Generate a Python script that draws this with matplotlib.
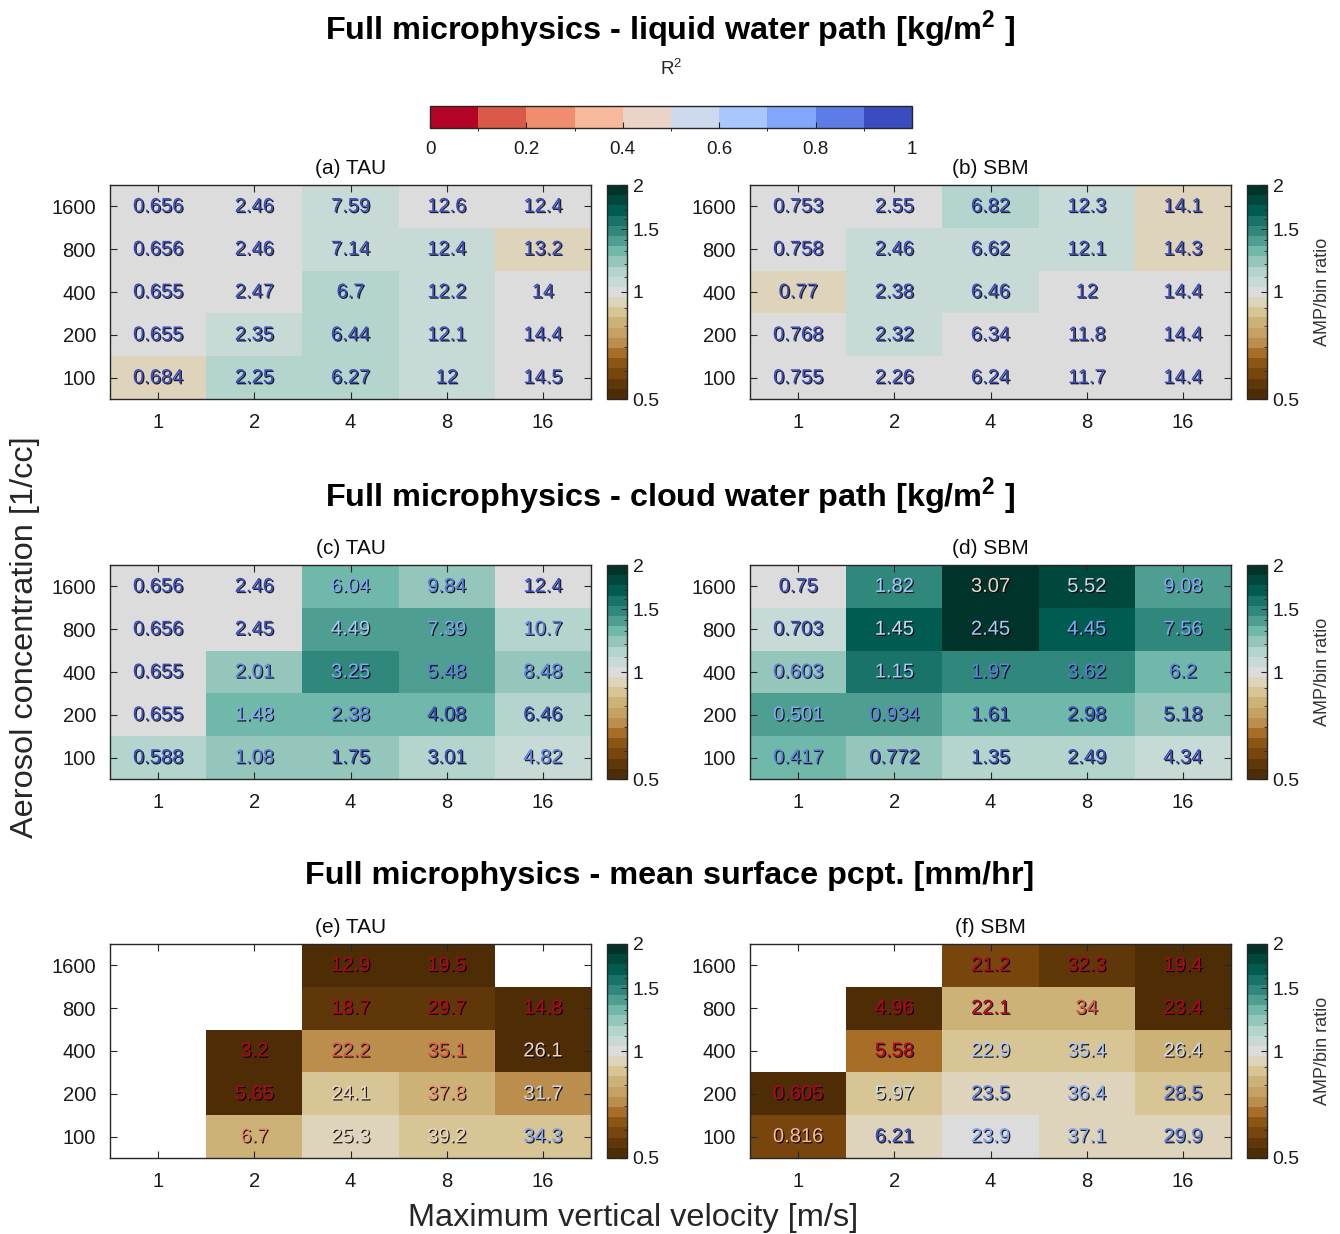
import numpy as np
import matplotlib
matplotlib.use('Agg')
import matplotlib.pyplot as plt
from matplotlib.colors import ListedColormap, LogNorm, BoundaryNorm
from matplotlib.cm import ScalarMappable
import matplotlib.patheffects as pe
from matplotlib.ticker import FixedLocator, NullFormatter

plt.rcParams['font.family'] = ['Liberation Sans', 'DejaVu Sans']
plt.rcParams['mathtext.fontset'] = 'custom'
plt.rcParams['mathtext.rm'] = 'Liberation Sans'
plt.rcParams['mathtext.bf'] = 'Liberation Sans:bold'

nan = np.nan
velocities = ['1', '2', '4', '8', '16']
aerosols = ['1600', '800', '400', '200', '100']   # top row first

# ---- (a) TAU liquid water path
a_vals = [[0.656, 2.46, 7.59, 12.6, 12.4],
          [0.656, 2.46, 7.14, 12.4, 13.2],
          [0.655, 2.47, 6.7, 12.2, 14],
          [0.655, 2.35, 6.44, 12.1, 14.4],
          [0.684, 2.25, 6.27, 12, 14.5]]
a_ratio = [[1.0, 1.0, 1.07, 1.0, 1.0],
           [1.0, 1.0, 1.07, 1.07, 0.94],
           [1.0, 1.0, 1.14, 1.07, 1.0],
           [1.0, 1.07, 1.14, 1.07, 1.0],
           [0.94, 1.14, 1.14, 1.07, 1.0]]
a_r2 = [[0.95] * 5] * 5

# ---- (b) SBM liquid water path
b_vals = [[0.753, 2.55, 6.82, 12.3, 14.1],
          [0.758, 2.46, 6.62, 12.1, 14.3],
          [0.77, 2.38, 6.46, 12, 14.4],
          [0.768, 2.32, 6.34, 11.8, 14.4],
          [0.755, 2.26, 6.24, 11.7, 14.4]]
b_ratio = [[1.0, 1.0, 1.14, 1.07, 0.94],
           [1.0, 1.07, 1.07, 1.07, 0.94],
           [0.94, 1.07, 1.07, 1.0, 1.0],
           [1.0, 1.07, 1.0, 1.0, 1.0],
           [1.0, 1.0, 1.0, 1.0, 1.0]]
b_r2 = [[0.95] * 5] * 5

# ---- (c) TAU cloud water path
c_vals = [[0.656, 2.46, 6.04, 9.84, 12.4],
          [0.656, 2.45, 4.49, 7.39, 10.7],
          [0.655, 2.01, 3.25, 5.48, 8.48],
          [0.655, 1.48, 2.38, 4.08, 6.46],
          [0.588, 1.08, 1.75, 3.01, 4.82]]
c_ratio = [[1.0, 1.0, 1.30, 1.22, 1.0],
           [1.0, 1.0, 1.39, 1.39, 1.14],
           [1.0, 1.22, 1.48, 1.39, 1.22],
           [1.0, 1.30, 1.30, 1.30, 1.14],
           [1.14, 1.22, 1.22, 1.14, 1.07]]
c_r2 = [[0.95, 0.95, 0.75, 0.85, 0.95],
        [0.95, 0.95, 0.65, 0.75, 0.85],
        [0.95, 0.85, 0.75, 0.85, 0.85],
        [0.95, 0.75, 0.85, 0.95, 0.95],
        [0.95, 0.85, 0.95, 0.95, 0.85]]

# ---- (d) SBM cloud water path
d_vals = [[0.75, 1.82, 3.07, 5.52, 9.08],
          [0.703, 1.45, 2.45, 4.45, 7.56],
          [0.603, 1.15, 1.97, 3.62, 6.2],
          [0.501, 0.934, 1.61, 2.98, 5.18],
          [0.417, 0.772, 1.35, 2.49, 4.34]]
d_ratio = [[1.0, 1.48, 2.1, 1.81, 1.39],
           [1.07, 1.69, 1.94, 1.69, 1.48],
           [1.22, 1.58, 1.48, 1.48, 1.30],
           [1.39, 1.39, 1.30, 1.30, 1.22],
           [1.30, 1.22, 1.14, 1.14, 1.07]]
d_r2 = [[0.95, 0.65, 0.45, 0.55, 0.75],
        [0.95, 0.55, 0.65, 0.75, 0.75],
        [0.85, 0.65, 0.85, 0.85, 0.85],
        [0.75, 0.85, 0.95, 0.95, 0.95],
        [0.85, 0.95, 0.95, 0.95, 0.95]]

# ---- (e) TAU mean surface precipitation
e_vals = [[nan, nan, 12.9, 19.5, nan],
          [nan, nan, 18.7, 29.7, 14.8],
          [nan, 3.2, 22.2, 35.1, 26.1],
          [nan, 5.65, 24.1, 37.8, 31.7],
          [nan, 6.7, 25.3, 39.2, 34.3]]
e_ratio = [[nan, nan, 0.45, 0.45, nan],
           [nan, nan, 0.55, 0.55, 0.45],
           [nan, 0.45, 0.72, 0.72, 0.45],
           [nan, 0.45, 0.88, 0.82, 0.72],
           [nan, 0.82, 0.94, 0.88, 0.88]]
e_r2 = [[nan, nan, 0.05, 0.05, nan],
        [nan, nan, 0.05, 0.05, 0.05],
        [nan, 0.05, 0.15, 0.15, 0.45],
        [nan, 0.05, 0.45, 0.25, 0.55],
        [nan, 0.25, 0.45, 0.45, 0.75]]

# ---- (f) SBM mean surface precipitation
f_vals = [[nan, nan, 21.2, 32.3, 19.4],
          [nan, 4.96, 22.1, 34, 23.4],
          [nan, 5.58, 22.9, 35.4, 26.4],
          [0.605, 5.97, 23.5, 36.4, 28.5],
          [0.816, 6.21, 23.9, 37.1, 29.9]]
f_ratio = [[nan, nan, 0.59, 0.55, 0.45],
           [nan, 0.45, 0.82, 0.82, 0.45],
           [nan, 0.67, 0.88, 0.88, 0.82],
           [0.45, 0.88, 0.94, 0.94, 0.88],
           [0.59, 0.94, 1.0, 0.94, 0.94]]
f_r2 = [[nan, nan, 0.05, 0.05, 0.05],
        [nan, 0.05, 0.05, 0.15, 0.05],
        [nan, 0.05, 0.65, 0.65, 0.55],
        [0.05, 0.55, 0.85, 0.75, 0.85],
        [0.35, 0.95, 0.75, 0.75, 0.85]]

row_titles = ['Full microphysics - liquid water path [kg/m$^{\\mathbf{2}}$ ]',
              'Full microphysics - cloud water path [kg/m$^{\\mathbf{2}}$ ]',
              'Full microphysics - mean surface pcpt. [mm/hr]']
panel_titles = ['(a) TAU', '(b) SBM', '(c) TAU', '(d) SBM', '(e) TAU', '(f) SBM']

# ---- colormaps
amp_colors = np.array([
    (78, 45, 6), (95, 55, 9), (120, 70, 12), (140, 85, 18), (168, 110, 40),
    (188, 142, 78), (198, 162, 98), (205, 178, 120), (215, 197, 150), (222, 212, 188),
    (220, 220, 220),
    (200, 218, 214), (180, 212, 206), (148, 198, 188), (112, 184, 170), (78, 158, 146),
    (48, 136, 125), (25, 115, 105), (0, 92, 80), (0, 72, 60), (0, 52, 42)]) / 255.0
amp_cmap = ListedColormap(amp_colors)
amp_norm = LogNorm(vmin=0.5, vmax=2)

r2_cmap = ListedColormap(plt.get_cmap('coolwarm_r')(np.linspace(0, 1, 10)))
r2_norm = BoundaryNorm(np.linspace(0, 1, 11), 10)

W, H = 1340, 1234
fig = plt.figure(figsize=(W / 100, H / 100), dpi=100)


def rect(x0, y0, x1, y1):
    return [x0 / W, 1 - y1 / H, (x1 - x0) / W, (y1 - y0) / H]


AXC = '0.15'
shadow = [pe.withSimplePatchShadow(offset=(0.9, -0.9), shadow_rgbFace='black', alpha=0.85)]


def draw_panel(ax, vals, ratio, r2, title):
    v = np.array(vals, float)
    r = np.ma.masked_invalid(np.array(ratio, float))
    q = np.array(r2, float)
    ny, nx = v.shape
    ax.pcolormesh(np.arange(nx + 1), np.arange(ny + 1), r[::-1], cmap=amp_cmap,
                  norm=amp_norm, shading='flat')
    for i in range(ny):
        for j in range(nx):
            if np.isnan(v[i, j]):
                continue
            col = r2_cmap(r2_norm(q[i, j]))
            ax.text(j + 0.5, ny - 1 - i + 0.5, '%.3g' % v[i, j], ha='center', va='center',
                    fontsize=14.5, color=col, path_effects=shadow)
    ax.set_xlim(0, nx)
    ax.set_ylim(0, ny)
    ax.set_xticks(np.arange(nx) + 0.5)
    ax.set_xticklabels(velocities)
    ax.set_yticks(np.arange(ny) + 0.5)
    ax.set_yticklabels(aerosols[::-1])
    ax.tick_params(direction='in', top=True, right=True, length=5, width=0.8,
                   color=AXC, labelcolor='0.1', labelsize=14.5, pad=10)
    for s in ax.spines.values():
        s.set_color(AXC)
        s.set_linewidth(1.0)
    ax.set_title(title, fontsize=15, pad=8, color='0.05')


def draw_cbar(cax, label):
    cb = fig.colorbar(ScalarMappable(norm=amp_norm, cmap=amp_cmap), cax=cax)
    cax.yaxis.set_major_locator(FixedLocator([0.5, 1, 1.5, 2]))
    cax.set_yticklabels(['0.5', '1', '1.5', '2'])
    cax.yaxis.set_minor_locator(FixedLocator([0.6, 0.7, 0.8, 0.9, 1.1, 1.2, 1.3, 1.4,
                                              1.6, 1.7, 1.8, 1.9]))
    cax.yaxis.set_minor_formatter(NullFormatter())
    cax.tick_params(which='major', direction='in', length=4, width=0.8, color=AXC,
                    labelsize=14, labelcolor='0.1', pad=4)
    cax.tick_params(which='minor', direction='in', length=2, width=0.6, color=AXC)
    cb.outline.set_edgecolor(AXC)
    cb.outline.set_linewidth(1.0)
    if label:
        cb.set_label(label, fontsize=13, color='0.2', labelpad=10)


panels = [(a_vals, a_ratio, a_r2), (b_vals, b_ratio, b_r2),
          (c_vals, c_ratio, c_r2), (d_vals, d_ratio, d_r2),
          (e_vals, e_ratio, e_r2), (f_vals, f_ratio, f_r2)]
row_y = [(185, 399), (565, 779), (944, 1158)]
col_x = [(110, 591, 607, 627), (750, 1231, 1247, 1267)]

for k, (vals, ratio, r2) in enumerate(panels):
    ri, ci = divmod(k, 2)
    y0, y1 = row_y[ri]
    x0, x1, cx0, cx1 = col_x[ci]
    ax = fig.add_axes(rect(x0, y0, x1, y1))
    draw_panel(ax, vals, ratio, r2, panel_titles[k])
    cax = fig.add_axes(rect(cx0, y0, cx1, y1))
    draw_cbar(cax, 'AMP/bin ratio' if ci == 1 else None)

for t, yc in zip(row_titles, [30, 497, 876]):
    fig.text(670 / W, 1 - yc / H, t, ha='center', va='center', fontsize=23.3,
             fontweight='bold', color='black')

# R^2 colorbar
rax = fig.add_axes(rect(430, 106, 912, 128))
rcb = fig.colorbar(ScalarMappable(norm=r2_norm, cmap=r2_cmap), cax=rax, orientation='horizontal')
rcb.set_ticks([0, 0.2, 0.4, 0.6, 0.8, 1.0])
rax.set_xticklabels(['0', '0.2', '0.4', '0.6', '0.8', '1'])
rax.tick_params(direction='in', length=4, width=0.8, color=AXC, labelsize=13.5,
                labelcolor='0.1', pad=9)
rcb.outline.set_edgecolor(AXC)
rcb.outline.set_linewidth(1.0)
rax.xaxis.set_label_position('top')
rax.set_xlabel('R$^2$', fontsize=13.5, color='0.15', labelpad=22)

fig.text(25 / W, 1 - 637 / H, 'Aerosol concentration [1/cc]', rotation=90,
         ha='center', va='center', fontsize=23.4, color='0.15')
fig.text(633 / W, 1 - 1218 / H, 'Maximum vertical velocity [m/s]',
         ha='center', va='center', fontsize=23.4, color='0.15')

fig.savefig('out.png', dpi=100, facecolor='white')
